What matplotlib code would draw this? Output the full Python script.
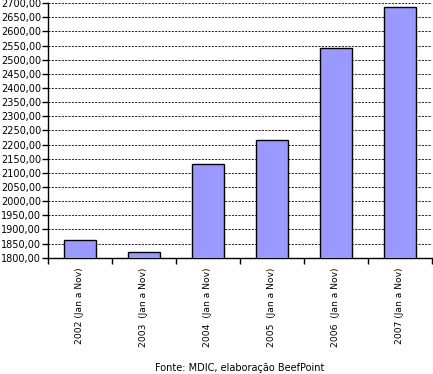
import matplotlib
matplotlib.use("Agg")
import matplotlib.pyplot as plt
import numpy as np

# --- DONNEES ---
categorias = ["2002 (Jan a Nov)", "2003  (Jan a Nov)", "2004  (Jan a Nov)",
              "2005  (Jan a Nov)", "2006  (Jan a Nov)", "2007 (Jan a Nov)"]
valores = [1862, 1821, 2130, 2215, 2540, 2685]
y_ticks = list(range(1800, 2701, 50))
fonte = "Fonte: MDIC, elaboração BeefPoint"

plt.rcParams['font.family'] = ['DejaVu Sans']

fig = plt.figure(figsize=(4.33, 3.74), dpi=100)
ax = fig.add_axes([48 / 433, 1 - 257.7 / 374, 384 / 433, 254.5 / 374])

x = np.arange(len(categorias))
ax.bar(x, valores, width=0.515, color="#9999FF", edgecolor="black",
       linewidth=1.0, zorder=3)

ax.set_ylim(1800, 2700)
ax.set_xlim(-0.5, len(categorias) - 0.5)
ax.set_yticks(y_ticks)
ax.set_yticklabels([f"{v},00" for v in y_ticks], fontsize=7)

# ticks x entre les catégories, labels au centre
ax.set_xticks(np.arange(-0.5, len(categorias) - 0.4, 1.0))
ax.set_xticklabels([])
ax.set_xticks(x, minor=True)
ax.set_xticklabels(categorias, minor=True, rotation=90, fontsize=6.6)
ax.tick_params(axis='x', which='minor', length=0, pad=7)
ax.tick_params(axis='x', which='major', length=4, width=1, color='black')
ax.tick_params(axis='y', length=4, width=1, pad=1)

ax.grid(axis='y', color='black', linestyle=(0, (2.5, 1.5)), linewidth=0.6, zorder=0)
ax.set_axisbelow(True)

for s in ['top', 'right']:
    ax.spines[s].set_visible(False)
for s in ['left', 'bottom']:
    ax.spines[s].set_linewidth(1.0)
    ax.spines[s].set_color('black')

fig.text(240 / 433, 1 - 368 / 374, fonte, ha='center', va='center', fontsize=7)

fig.savefig("out.png", dpi=100)
